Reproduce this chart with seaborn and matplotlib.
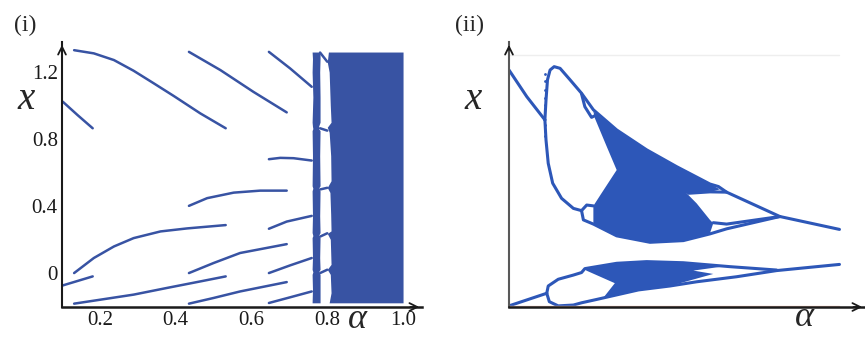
import numpy as np
import pandas as pd
import matplotlib
matplotlib.use('Agg')
import matplotlib.pyplot as plt
import seaborn as sns

# ---------------- panel (i): periodic branches (alpha, x)
br1_a = [0.132, 0.184, 0.237, 0.289, 0.342, 0.395, 0.465, 0.532]
br1_x = [1.331, 1.312, 1.272, 1.208, 1.133, 1.057, 0.953, 0.864]
br2_a = [0.102, 0.141, 0.181]
br2_x = [1.023, 0.943, 0.864]
br3_a = [0.435, 0.518, 0.605, 0.693]
br3_x = [1.321, 1.212, 1.082, 0.959]
br4_a = [0.646, 0.702, 0.759]
br4_x = [1.321, 1.222, 1.112]
br5_a = [0.646, 0.676, 0.711, 0.759]
br5_x = [0.679, 0.687, 0.685, 0.671]
br6_a = [0.435, 0.483, 0.553, 0.623, 0.693]
br6_x = [0.400, 0.446, 0.479, 0.491, 0.491]
br7_a = [0.132, 0.184, 0.237, 0.289, 0.360, 0.430, 0.532]
br7_x = [-0.002, 0.088, 0.157, 0.207, 0.247, 0.265, 0.285]
br8_a = [0.646, 0.693, 0.759]
br8_x = [0.263, 0.306, 0.340]
br9_a = [0.435, 0.500, 0.570, 0.693]
br9_x = [-0.002, 0.058, 0.118, 0.171]
br10_a = [0.646, 0.702, 0.759]
br10_x = [-0.002, 0.044, 0.088]
br11_a = [0.102, 0.181]
br11_x = [-0.076, -0.022]
br12_a = [0.132, 0.202, 0.289, 0.377, 0.465, 0.532]
br12_x = [-0.185, -0.161, -0.131, -0.091, -0.052, -0.022]
br13_a = [0.435, 0.500, 0.570, 0.693]
br13_x = [-0.185, -0.151, -0.112, -0.056]
br14_a = [0.646, 0.702, 0.759]
br14_x = [-0.181, -0.147, -0.112]
# short pieces crossing the gap between the two chaotic bands
gap_a = [0.781, 0.800]
gap_x1 = [1.317, 1.262]
gap_x2 = [0.864, 0.850]
gap_x3 = [0.498, 0.508]
gap_x4 = [0.216, 0.236]
gap_x5 = [-0.002, 0.018]

# chaotic bands: edges in alpha along x
band1_x = [1.32, 1.28, 1.20, 1.05, 0.90, 0.875, 0.862, 0.85, 0.70, 0.52,
           0.505, 0.49, 0.34, 0.24, 0.222, 0.21, 0.09, 0.02, 0.005, -0.01,
           -0.10, -0.18]
band1_lo = [0.760, 0.761, 0.760, 0.762, 0.760, 0.761, 0.762, 0.760, 0.761, 0.760,
            0.762, 0.760, 0.761, 0.760, 0.762, 0.760, 0.761, 0.760, 0.762, 0.760,
            0.761, 0.760]
band1_hi = [0.781, 0.781, 0.780, 0.781, 0.781, 0.777, 0.777, 0.781, 0.780, 0.781,
            0.777, 0.781, 0.780, 0.781, 0.777, 0.781, 0.780, 0.781, 0.777, 0.781,
            0.781, 0.781]
main_x = [1.32, 1.26, 1.20, 1.00, 0.90, 0.87, 0.84, 0.70, 0.55, 0.51,
          0.48, 0.35, 0.25, 0.235, 0.20, 0.05, 0.02, -0.01, -0.12, -0.18]
main_lo = [0.803, 0.800, 0.805, 0.808, 0.810, 0.800, 0.805, 0.809, 0.810, 0.800,
           0.807, 0.809, 0.810, 0.800, 0.808, 0.810, 0.800, 0.808, 0.810, 0.805]
main_hi = [1.0] * len(main_x)

# ---------------- panel (ii): unlabelled axes, coordinates in tick units
up_left_a = [0.0, 0.48, 0.97]
up_left_x = [8.46, 7.51, 6.68]
up_arm_a = [0.97, 1.00, 1.04, 1.11, 1.22, 1.38, 1.65, 1.96, 2.28, 2.91, 3.72, 4.53,
            5.43, 5.66, 5.88, 7.32, 8.93]
up_arm_x = [6.68, 7.39, 8.11, 8.46, 8.58, 8.52, 8.11, 7.63, 7.04, 6.32, 5.61, 5.01,
            4.39, 4.30, 4.10, 3.23, 2.77]
bub1_a = [1.96, 2.05, 2.23, 2.37]
bub1_x = [7.61, 7.15, 6.77, 6.86]
lo_arm_a = [0.97, 1.00, 1.06, 1.18, 1.42, 1.74, 1.96, 2.01, 2.28, 2.91, 3.81, 4.71,
            5.43, 5.88, 7.32]
lo_arm_x = [6.68, 5.96, 5.13, 4.42, 3.88, 3.52, 3.44, 3.11, 2.96, 2.54, 2.31, 2.37,
            2.61, 2.79, 3.23]
bub2_a = [1.96, 2.10, 2.28]
bub2_x = [3.44, 3.64, 3.61]
lobe_top_a = [4.85, 5.43, 5.88]
lobe_top_x = [4.06, 4.11, 4.10]
lobe_bot_a = [5.52, 5.88, 7.32]
lobe_bot_x = [3.01, 2.96, 3.23]
chaos_up_a = [2.28, 2.91, 3.72, 4.53, 5.43, 5.70, 5.48, 4.80, 5.07, 5.43, 5.52, 5.43,
              4.71, 3.81, 2.91, 2.28, 2.28, 2.50, 2.91, 2.64, 2.32]
chaos_up_x = [6.98, 6.32, 5.61, 5.01, 4.39, 4.20, 4.12, 4.06, 3.70, 3.11, 2.99, 2.63,
              2.39, 2.31, 2.54, 2.96, 3.61, 4.06, 4.89, 5.73, 6.74]

low_line_a = [0.0, 1.02]
low_line_x = [0.04, 0.49]
low_up_a = [1.02, 1.06, 1.33, 1.74, 1.96, 2.05, 2.91, 3.72, 4.71, 5.43, 5.97, 7.23]
low_up_x = [0.49, 0.75, 0.99, 1.14, 1.23, 1.37, 1.56, 1.62, 1.58, 1.50, 1.44, 1.32]
low_lo_a = [1.02, 1.09, 1.33, 1.74, 1.96, 2.37, 3.50, 4.35, 5.07, 6.15, 7.23, 8.93]
low_lo_x = [0.49, 0.19, 0.04, 0.07, 0.15, 0.27, 0.61, 0.75, 0.90, 1.08, 1.30, 1.52]
chaos_lo_a = [2.05, 2.91, 3.72, 4.71, 5.43, 5.75, 4.98, 5.52, 4.35, 3.50, 2.55, 2.86, 2.09]
chaos_lo_x = [1.37, 1.56, 1.62, 1.58, 1.50, 1.44, 1.30, 1.18, 0.75, 0.61, 0.33, 0.85, 1.30]
dots_a = [0.97, 0.97, 0.97, 0.97, 0.97, 0.97, 0.97, 0.97]
dots_x = [8.30, 8.05, 7.75, 7.45, 7.20, 6.50, 6.30, 6.10]

sns.set_theme(style='white')
plt.rcParams['font.family'] = ['Liberation Serif', 'DejaVu Serif']

blue1 = '#3853a3'
blue2 = '#2d57b8'

def segments(pairs):
    rows = []
    for k, (a, x) in enumerate(pairs):
        rows += [{'seg': k, 'alpha': ai, 'x': xi} for ai, xi in zip(a, x)]
    return pd.DataFrame(rows)

fig = plt.figure(figsize=(8.65, 3.38), dpi=100)
ax1 = fig.add_axes([62 / 865, 31 / 338, 360 / 865, 265 / 338])
ax2 = fig.add_axes([509 / 865, 31 / 338, 356 / 865, 265 / 338])

# ---- panel (i)
ax1.fill_betweenx(band1_x, band1_lo, band1_hi, color=blue1, lw=0)
ax1.fill_betweenx(main_x, main_lo, main_hi, color=blue1, lw=0)
df1 = segments([(br1_a, br1_x), (br2_a, br2_x), (br3_a, br3_x), (br4_a, br4_x),
                (br5_a, br5_x), (br6_a, br6_x), (br7_a, br7_x), (br8_a, br8_x),
                (br9_a, br9_x), (br10_a, br10_x), (br11_a, br11_x), (br12_a, br12_x),
                (br13_a, br13_x), (br14_a, br14_x), (gap_a, gap_x1), (gap_a, gap_x2),
                (gap_a, gap_x3), (gap_a, gap_x4), (gap_a, gap_x5)])
sns.lineplot(data=df1, x='alpha', y='x', units='seg', estimator=None, sort=False,
             color=blue1, lw=1.8, ax=ax1)
ax1.set_xlim(0.1, 1.05)
ax1.set_ylim(-0.205, 1.38)
ax1.set_xticks([0.2, 0.4, 0.6, 0.8, 1.0], ['0.2', '0.4', '0.6', '0.8', '1.0'])
ax1.set_xticks([0.3, 0.5, 0.7, 0.9], minor=True)
ax1.set_yticks([0, 0.4, 0.8, 1.2], ['0', '0.4', '0.8', '1.2'])
ax1.set_yticks([0.2, 0.6, 1.0], minor=True)
ax1.tick_params(which='both', direction='in', length=4, width=0.8, labelsize=15,
                pad=3, colors='k')
ax1.set_xlabel('')
ax1.set_ylabel('')

# ---- panel (ii)
ax2.fill(chaos_up_a, chaos_up_x, color=blue2, lw=0)
ax2.fill(chaos_lo_a, chaos_lo_x, color=blue2, lw=0)
df2 = segments([(up_left_a, up_left_x), (up_arm_a, up_arm_x), (bub1_a, bub1_x),
                (lo_arm_a, lo_arm_x), (bub2_a, bub2_x), (lobe_top_a, lobe_top_x),
                (lobe_bot_a, lobe_bot_x), (low_line_a, low_line_x),
                (low_up_a, low_up_x), (low_lo_a, low_lo_x)])
sns.lineplot(data=df2, x='alpha', y='x', units='seg', estimator=None, sort=False,
             color=blue2, lw=2.2, ax=ax2)
sns.scatterplot(x=dots_a, y=dots_x, color=blue2, s=4, linewidth=0, ax=ax2)
ax2.plot([0, 8.92], [9.0, 9.0], color='#eeeeee', lw=1)
ax2.plot([0, 8.92], [0.05, 0.05], color='#f3c9b8', lw=1)
ax2.set_xlim(0, 9.62)
ax2.set_ylim(0, 9.46)
ax2.set_xticks(range(1, 8))
ax2.set_yticks(range(1, 9))
ax2.tick_params(which='both', direction='in', length=3, width=0.8, colors='0.45',
                labelbottom=False, labelleft=False)
ax2.set_xlabel('')
ax2.set_ylabel('')

for ax, lcol in ((ax1, 'k'), (ax2, '0.35')):
    ax.patch.set_alpha(0)
    for s in ('top', 'right'):
        ax.spines[s].set_visible(False)
    ax.spines['left'].set_color(lcol)
    ax.spines['bottom'].set_color('k')
    ax.spines['left'].set_linewidth(1.5)
    ax.spines['bottom'].set_linewidth(1.8)
    ax.annotate('', xy=(0, 1.0), xytext=(0, 0.96), xycoords='axes fraction',
                arrowprops=dict(arrowstyle='->', lw=1.3, color='k', mutation_scale=14),
                annotation_clip=False)
    ax.annotate('', xy=(1.0, 0), xytext=(0.96, 0), xycoords='axes fraction',
                arrowprops=dict(arrowstyle='->', lw=1.3, color='k', mutation_scale=14),
                annotation_clip=False)

# axis symbols and panel tags
fig.text(26 / 865, 1 - 100 / 338, 'x', fontsize=28, style='italic', ha='center', va='center')
fig.text(357 / 865, 1 - 320 / 338, 'α', fontsize=26, style='italic', ha='center', va='center')
fig.text(473 / 865, 1 - 99 / 338, 'x', fontsize=28, style='italic', ha='center', va='center')
fig.text(804 / 865, 1 - 318 / 338, 'α', fontsize=26, style='italic', ha='center', va='center')
fig.text(25 / 865, 1 - 25 / 338, '(i)', fontsize=17, ha='center', va='center')
fig.text(470 / 865, 1 - 25 / 338, '(ii)', fontsize=17, ha='center', va='center')

fig.savefig('out.png', dpi=100)
